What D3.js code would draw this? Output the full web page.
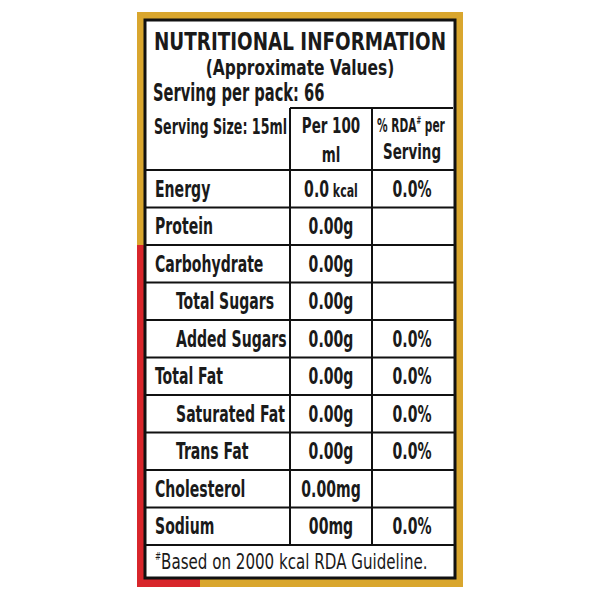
<!DOCTYPE html><html><head><meta charset="utf-8"><script src="https://d3js.org/d3.v7.min.js"></script>
<style>body{margin:0;background:#fff}text{font-family:"DejaVu Sans Condensed","Liberation Sans",sans-serif;fill:#1a1a1a}</style></head><body><svg id="c" width="600" height="600"></svg>
<script>
const nutrients=["Energy","Protein","Carbohydrate","Total Sugars","Added Sugars","Total Fat","Saturated Fat","Trans Fat","Cholesterol","Sodium"];
const indent=[0,0,0,1,1,0,1,1,0,0];
const per100Num=["0.0","0.00","0.00","0.00","0.00","0.00","0.00","0.00","0.00","00"];
const per100Unit=[" kcal","g","g","g","g","g","g","g","mg","mg"];
const rda=["0.0%","","","","0.0%","0.0%","0.0%","0.0%","","0.0%"];
const svg=d3.select("#c");
svg.append("rect").attr("x",137).attr("y",12).attr("width",326).attr("height",575).attr("fill","#d9a62e");
svg.append("path").attr("d","M137,245 L145,245 L145,578 L200,578 L200,587 L137,587Z").attr("fill","#d8262b");
svg.append("rect").attr("x",145).attr("y",20).attr("width",310).attr("height",558).attr("fill","#fff").attr("stroke","#111").attr("stroke-width",3);
const x=d3.scaleOrdinal().domain(["n","p","r","e"]).range([148,290,372,453]);
const y=d3.scaleBand().domain(nutrients).range([170,545]);
const L=svg.append("g").attr("stroke","#111").attr("stroke-width",2);
L.append("line").attr("x1",x("p")).attr("x2",x("e")).attr("y1",108).attr("y2",108);
["p","r"].forEach(k=>L.append("line").attr("x1",x(k)).attr("x2",x(k)).attr("y1",108).attr("y2",545));
[170].concat(nutrients.map(d=>y(d)+y.bandwidth())).forEach(v=>L.append("line").attr("x1",146).attr("x2",454).attr("y1",v).attr("y2",v));
const SX=0.68;
const t=(s,xx,yy,sz,anc,w,sx)=>svg.append("text").attr("transform",`translate(${xx},${yy}) scale(${sx||SX},1)`).attr("font-size",sz).attr("text-anchor",anc||"start").attr("font-weight",w||"bold").text(s);
t("NUTRITIONAL INFORMATION",300,50,25,"middle").attr("textLength",292/SX).attr("lengthAdjust","spacingAndGlyphs");
t("(Approximate Values)",300,75,22,"middle","bold",0.78);
t("Serving per pack: 66",153,101,24);
t("Serving Size: 15ml",154,134,22).attr("textLength",133/SX).attr("lengthAdjust","spacingAndGlyphs");
t("Per 100",331,133,22,"middle");t("ml",331,162,22,"middle");
const h=t("% RDA",377,132,19,"start","bold",0.62);h.append("tspan").attr("font-size",10).attr("dy",-8).text("#");h.append("tspan").attr("dy",8).text(" per");
t("Serving",412,159,22,"middle");
const rows=svg.selectAll("g.r").data(nutrients).join("g").attr("transform",d=>`translate(0,${y(d)+y.bandwidth()/2+8})`);
rows.append("text").attr("transform",(d,i)=>`translate(${indent[i]?176:155},0) scale(${SX},1)`).attr("font-size",23).attr("font-weight","bold").text(d=>d);
rows.append("text").attr("transform",`translate(331,0) scale(${SX},1)`).attr("text-anchor","middle").attr("font-size",23).attr("font-weight","bold")
 .each(function(d,i){const s=d3.select(this);s.append("tspan").text(per100Num[i]);s.append("tspan").attr("font-size",per100Unit[i]===" kcal"?18:23).text(per100Unit[i]);});
rows.append("text").attr("transform",`translate(412,0) scale(${SX},1)`).attr("text-anchor","middle").attr("font-size",23).attr("font-weight","bold").text((d,i)=>rda[i]);
const f=t("#",155,560,10,"start","normal",0.8);f.append("tspan").attr("font-size",21).attr("dy",9).text("Based on 2000 kcal RDA Guideline.");
</script></body></html>
